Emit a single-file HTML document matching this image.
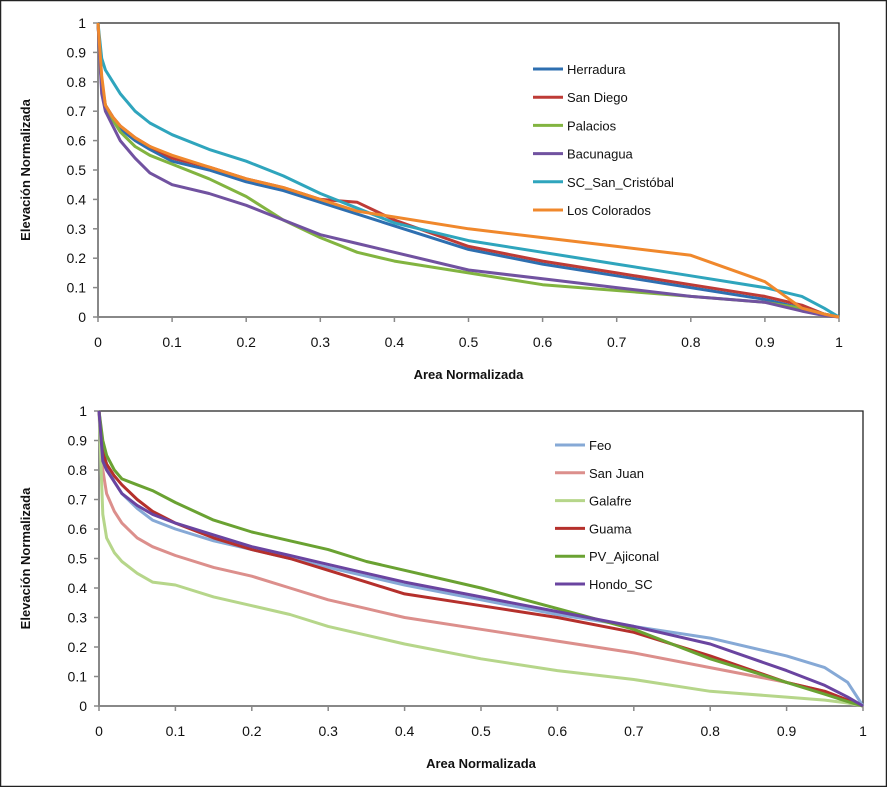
<!DOCTYPE html>
<html><head><meta charset="utf-8"><style>
body{margin:0;background:#fff}
svg{display:block;font-family:"Liberation Sans",sans-serif}
</style></head><body>
<svg id="s" width="887" height="787">
<rect x="0.5" y="0.5" width="886" height="786" fill="#fff" stroke="#222" stroke-width="1.5"/>
</svg>
<script>
const xs=[0,0.005,0.01,0.02,0.03,0.05,0.07,0.1,0.15,0.2,0.25,0.3,0.35,0.4,0.5,0.6,0.7,0.8,0.9,0.95,0.98,1];
const topNames=["Herradura","San Diego","Palacios","Bacunagua","SC_San_Cristóbal","Los Colorados"];
const herradura=[1,0.78,0.72,0.68,0.64,0.6,0.57,0.53,0.5,0.46,0.43,0.39,0.35,0.31,0.23,0.18,0.14,0.1,0.06,0.03,0.01,0];
const sanDiego=[1,0.78,0.72,0.68,0.65,0.61,0.58,0.54,0.51,0.47,0.44,0.4,0.39,0.33,0.24,0.19,0.15,0.11,0.07,0.04,0.01,0];
const palacios=[1,0.8,0.72,0.67,0.63,0.58,0.55,0.52,0.47,0.41,0.33,0.27,0.22,0.19,0.15,0.11,0.09,0.07,0.05,0.03,0.01,0];
const bacunagua=[1,0.76,0.7,0.65,0.6,0.54,0.49,0.45,0.42,0.38,0.33,0.28,0.25,0.22,0.16,0.13,0.1,0.07,0.05,0.02,0.005,0];
const scSanCristobal=[1,0.88,0.84,0.8,0.76,0.7,0.66,0.62,0.57,0.53,0.48,0.42,0.37,0.32,0.26,0.22,0.18,0.14,0.1,0.07,0.03,0];
const losColorados=[1,0.82,0.72,0.68,0.65,0.61,0.58,0.55,0.51,0.47,0.44,0.4,0.36,0.34,0.3,0.27,0.24,0.21,0.12,0.03,0.01,0];
const botNames=["Feo","San Juan","Galafre","Guama","PV_Ajiconal","Hondo_SC"];
const feo=[1,0.88,0.82,0.76,0.72,0.67,0.63,0.6,0.56,0.53,0.5,0.47,0.44,0.41,0.36,0.31,0.27,0.23,0.17,0.13,0.08,0];
const sanJuan=[1,0.8,0.72,0.66,0.62,0.57,0.54,0.51,0.47,0.44,0.4,0.36,0.33,0.3,0.26,0.22,0.18,0.13,0.08,0.05,0.02,0];
const galafre=[1,0.65,0.57,0.52,0.49,0.45,0.42,0.41,0.37,0.34,0.31,0.27,0.24,0.21,0.16,0.12,0.09,0.05,0.03,0.02,0.01,0];
const guama=[1,0.86,0.82,0.78,0.75,0.7,0.66,0.62,0.57,0.53,0.5,0.46,0.42,0.38,0.34,0.3,0.25,0.17,0.08,0.05,0.02,0];
const pvAjiconal=[1,0.9,0.85,0.8,0.77,0.75,0.73,0.69,0.63,0.59,0.56,0.53,0.49,0.46,0.4,0.33,0.26,0.16,0.08,0.04,0.015,0];
const hondo=[1,0.83,0.8,0.76,0.72,0.68,0.65,0.62,0.58,0.54,0.51,0.48,0.45,0.42,0.37,0.32,0.27,0.21,0.12,0.07,0.03,0];
const ticks=["0","0.1","0.2","0.3","0.4","0.5","0.6","0.7","0.8","0.9","1"];
const topColors=["#2e6fb0","#be3b36","#82b440","#7152a0","#2fa5bd","#f0882c"];
const botColors=["#86a9d6","#dc8f8c","#b6d68a","#b5302c","#6aa232","#6a44a0"];
const NS="http://www.w3.org/2000/svg";
const svg=document.getElementById('s');
function mk(tag,attrs,parent){const e=document.createElementNS(NS,tag);for(const k in attrs)e.setAttribute(k,attrs[k]);(parent||svg).appendChild(e);return e;}
function chart(cfg){
  const g=mk('g',{});
  
  
  const X=v=>cfg.l+v*(cfg.r-cfg.l), Y=v=>cfg.b-v*(cfg.b-cfg.t);
  const frame=mk('path',{d:`M${cfg.l} ${cfg.t}H${cfg.r}V${cfg.b}`,fill:'none',stroke:'#222','stroke-width':1.3},g);
  
  const ax=mk('path',{d:`M${cfg.l} ${cfg.t}V${cfg.b}H${cfg.r}`,fill:'none',stroke:'#888','stroke-width':2},g);
  
  ticks.forEach((t,i)=>{
    const v=i/10;
    mk('line',{x1:X(v),x2:X(v),y1:cfg.b,y2:cfg.b+5,stroke:'#888','stroke-width':1.5},g);
    mk('line',{x1:cfg.l-5,x2:cfg.l,y1:Y(v),y2:Y(v),stroke:'#888','stroke-width':1.5},g);
    const tx=mk('text',{x:X(v),y:cfg.b+30,'text-anchor':'middle','font-size':14,fill:'#111'},g);tx.textContent=t;
    
    const ty=mk('text',{x:cfg.l-12,y:Y(v)+5,'text-anchor':'end','font-size':14,fill:'#111'},g);ty.textContent=t;
    
  });
  const xt=mk('text',{x:(cfg.l+cfg.r)/2,y:cfg.b+62,'text-anchor':'middle','font-size':13,'font-weight':'bold',fill:'#111'},g);
  xt.textContent='Area Normalizada';
  const yt=mk('text',{x:0,y:0,transform:`translate(30 ${(cfg.t+cfg.b)/2}) rotate(-90)`,'text-anchor':'middle','font-size':13,'font-weight':'bold',fill:'#111'},g);
  yt.textContent='Elevación Normalizada';
  cfg.series.forEach((s,i)=>{
    const d=xs.map((x,j)=>(j?'L':'M')+X(x).toFixed(1)+' '+Y(s[j]).toFixed(1)).join('');
    const p=mk('path',{d,fill:'none',stroke:cfg.colors[i],'stroke-width':3,'stroke-linejoin':'round'},g);
    
    
    const ly=cfg.ly+i*cfg.ld;
    const ll=mk('line',{x1:cfg.lx,x2:cfg.lx+30,y1:ly,y2:ly,stroke:cfg.colors[i],'stroke-width':3},g);
    
    const lt=mk('text',{x:cfg.lx+34,y:ly+5,'font-size':13,fill:'#111'},g);lt.textContent=cfg.names[i];
    
  });
}
chart({name:'top-chart',l:98,r:839,t:23,b:317,series:[herradura,sanDiego,palacios,bacunagua,scSanCristobal,losColorados],names:topNames,colors:topColors,lx:533,ly:69,ld:28.2});
chart({name:'bottom-chart',l:99,r:863,t:411,b:706,series:[feo,sanJuan,galafre,guama,pvAjiconal,hondo],names:botNames,colors:botColors,lx:555,ly:445,ld:27.8});
</script>
</body></html>
